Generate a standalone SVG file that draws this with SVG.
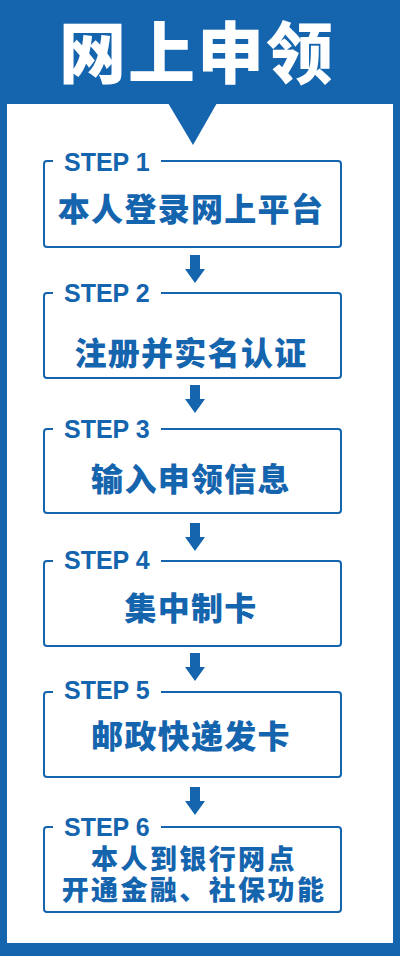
<svg xmlns="http://www.w3.org/2000/svg" width="400" height="956" viewBox="0 0 400 956">
<defs>
<style>
.bg{fill:#1464ae}
.box{fill:none;stroke:#1464ae;stroke-width:2}
.step{font-family:"Liberation Sans",Arial,sans-serif;font-weight:bold;font-size:25px;fill:#1464ae}
.main{font-family:"Noto Sans CJK SC","Noto Sans",sans-serif;font-weight:900;font-size:32px;fill:#1464ae;text-anchor:middle;letter-spacing:1.3px}
.main6{font-size:27px;letter-spacing:2.4px}
.title{font-family:"Noto Sans CJK SC","Noto Sans",sans-serif;font-weight:900;font-size:67px;fill:#ffffff;text-anchor:middle;letter-spacing:2px}
.arrow{fill:#1464ae}
</style>
<path id="arr" d="M-5,0 H5 V14 H10 L0,28 L-10,14 H-5 Z"/>
</defs>
<rect class="bg" x="0" y="0" width="400" height="956"/>
<g id="panel">
<rect x="7" y="104" width="386" height="839" fill="#ffffff"/>
<polygon class="bg" points="168,103 217,103 193,145"/>
</g>
<g id="title"><text class="title" x="197" y="78">网上申领</text></g>

<g id="connectors">
<use href="#arr" class="arrow" x="195" y="255"/>
<use href="#arr" class="arrow" x="195" y="385"/>
<use href="#arr" class="arrow" x="195" y="523"/>
<use href="#arr" class="arrow" x="195" y="653"/>
<use href="#arr" class="arrow" x="195" y="787"/>
</g>

<g id="step1">
<path class="box" d="M53,161 H47 Q44,161 44,164 V244 Q44,247 47,247 H338 Q341,247 341,244 V164 Q341,161 338,161 H161"/>
<text class="step" x="64" y="171">STEP 1</text>
<text class="main" x="191" y="221">本人登录网上平台</text>
</g>
<g id="step2">
<path class="box" d="M53,293 H47 Q44,293 44,296 V375 Q44,378 47,378 H338 Q341,378 341,375 V296 Q341,293 338,293 H161"/>
<text class="step" x="64" y="302">STEP 2</text>
<text class="main" x="191" y="365">注册并实名认证</text>
</g>
<g id="step3">
<path class="box" d="M53,429 H47 Q44,429 44,432 V510 Q44,513 47,513 H338 Q341,513 341,510 V432 Q341,429 338,429 H161"/>
<text class="step" x="64" y="438">STEP 3</text>
<text class="main" x="191" y="491">输入申领信息</text>
</g>
<g id="step4">
<path class="box" d="M53,561 H47 Q44,561 44,564 V643 Q44,646 47,646 H338 Q341,646 341,643 V564 Q341,561 338,561 H161"/>
<text class="step" x="64" y="569">STEP 4</text>
<text class="main" x="191" y="620">集中制卡</text>
</g>
<g id="step5">
<path class="box" d="M53,692 H47 Q44,692 44,695 V774 Q44,777 47,777 H338 Q341,777 341,774 V695 Q341,692 338,692 H161"/>
<text class="step" x="64" y="699">STEP 5</text>
<text class="main" x="191" y="748">邮政快递发卡</text>
</g>
<g id="step6">
<path class="box" d="M53,827 H47 Q44,827 44,830 V909 Q44,912 47,912 H338 Q341,912 341,909 V830 Q341,827 338,827 H161"/>
<text class="step" x="64" y="836">STEP 6</text>
<text class="main main6"><tspan x="194" y="869">本人到银行网点</tspan><tspan x="194" y="900">开通金融、社保功能</tspan></text>
</g>
</svg>
